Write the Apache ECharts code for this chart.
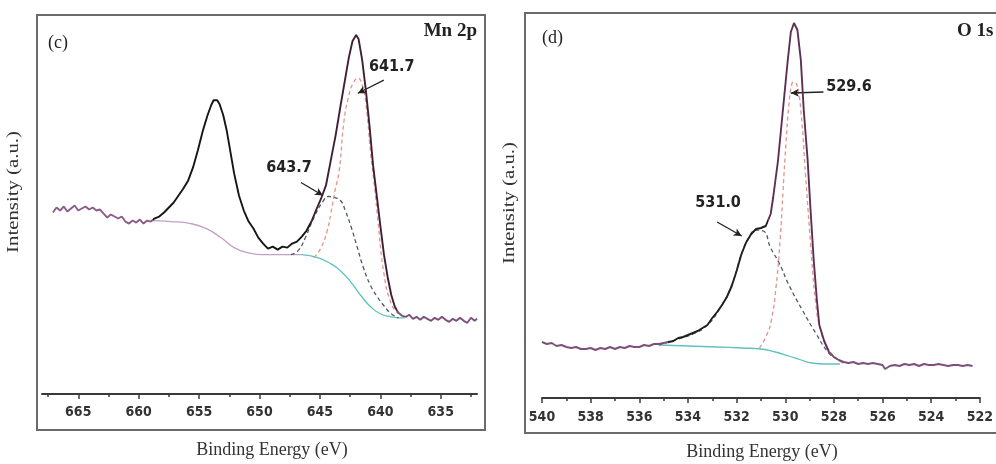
<!DOCTYPE html>
<html>
<head>
<meta charset="utf-8">
<script src="https://cdn.jsdelivr.net/npm/echarts@6/dist/echarts.min.js"></script>
<style>
html,body{margin:0;padding:0;background:#fff;}
#chart{width:996px;height:464px;}
</style>
</head>
<body>
<div id="chart"></div>
<script>
// ---------- Panel (c) Mn 2p ----------
var mnTicks = [635, 640, 645, 650, 655, 660, 665];
var mnMinorTicks = [632.5, 637.5, 642.5, 647.5, 652.5, 657.5, 662.5, 667.5];
var mnEnergy = [667.1, 666.8, 666.5, 666.2, 665.9, 665.6, 665.3, 665.0, 664.7, 664.4, 664.1, 663.8, 663.5, 663.2, 662.9, 662.6, 662.3, 662.0, 661.7, 661.4, 661.1, 660.8, 660.5, 660.2, 659.9, 659.6, 659.3, 659.0, 658.7, 658.3, 657.9, 657.5, 657.1, 656.7, 656.3, 655.9, 655.5, 655.1, 654.7, 654.3, 654.0, 653.8, 653.5, 653.3, 653.0, 652.7, 652.4, 652.1, 651.7, 651.3, 650.9, 650.5, 650.1, 649.7, 649.3, 648.9, 648.5, 648.1, 647.7, 647.3, 646.9, 646.5, 646.1, 645.7, 645.3, 644.9, 644.5, 644.1, 643.7, 643.3, 642.9, 642.6, 642.3, 642.0, 641.8, 641.5, 641.2, 640.9, 640.6, 640.3, 640.0, 639.7, 639.4, 639.1, 638.8, 638.5, 638.2, 637.9, 637.6, 637.3, 637.0, 636.7, 636.4, 636.1, 635.8, 635.5, 635.2, 634.9, 634.6, 634.3, 634.0, 633.7, 633.4, 633.1, 632.8, 632.5, 632.2, 632.0];
var mnIntensity = [181, 186, 183, 187, 182, 185, 188, 183, 185, 187, 184, 186, 183, 184, 180, 176, 179, 177, 175, 177, 172, 170, 173, 171, 174, 170, 173, 172, 175, 177, 181, 186, 191, 198, 205, 213, 226, 243, 262, 278, 288, 293, 293, 289, 278, 262, 241, 220, 198, 183, 172, 165, 156, 150, 145, 147, 144, 147, 146, 150, 152, 157, 163, 172, 184, 195, 208, 233, 258, 287, 315, 336, 352, 358, 354, 333, 303, 268, 228, 198, 168, 139, 117, 99, 87, 81, 78, 77, 79, 75, 77, 74, 77, 75, 73, 76, 74, 77, 74, 72, 75, 73, 76, 73, 71, 76, 73, 75];
var mnBgPinkEnergy = [659.0, 657.3, 655.7, 654.4, 653.2, 652.1, 651.0, 649.9, 648.2, 646.5];
var mnBgPinkIntensity = [173, 172, 170, 165, 156, 146, 141, 139, 139, 139];
var mnBgCyanEnergy = [646.5, 645.2, 644.1, 643.3, 642.4, 641.6, 640.8, 640.0, 639.1, 638.5, 638.0];
var mnBgCyanIntensity = [139, 136, 130, 123, 111, 98, 87, 80, 77, 76, 76];
var mn6437Energy = [647.4, 646.8, 646.2, 645.5, 644.75, 644.3, 643.85, 643.3, 642.9, 642.4, 641.9, 641.4, 640.8, 640.2, 639.7, 639.1, 638.5];
var mn6437Intensity = [139, 143, 156, 176, 192, 197, 196, 193, 183, 166, 146, 126, 108, 96, 88, 80, 76];
var mn6417Energy = [645.5, 644.9, 644.4, 644.1, 643.75, 643.4, 643.0, 642.6, 642.25, 641.85, 641.5, 641.2, 640.8, 640.45, 640.2, 639.7, 639.1, 638.5];
var mn6417Intensity = [136, 146, 163, 180, 203, 223, 273, 298, 310, 315, 308, 290, 240, 203, 173, 120, 90, 80];

// ---------- Panel (d) O 1s ----------
var oTicks = [522, 524, 526, 528, 530, 532, 534, 536, 538, 540];
var oMinorTicks = [523, 525, 527, 529, 531, 533, 535, 537, 539];
var oEnergy = [540.0, 539.8, 539.6, 539.4, 539.2, 539.0, 538.8, 538.6, 538.4, 538.2, 538.0, 537.8, 537.6, 537.4, 537.2, 537.0, 536.8, 536.6, 536.4, 536.2, 536.0, 535.8, 535.6, 535.4, 535.2, 535.0, 534.8, 534.6, 534.4, 534.2, 534.0, 533.8, 533.6, 533.4, 533.2, 533.0, 532.8, 532.6, 532.4, 532.2, 532.0, 531.8, 531.6, 531.4, 531.2, 531.0, 530.8, 530.6, 530.5, 530.3, 530.1, 529.9, 529.77, 529.64, 529.5, 529.36, 529.24, 529.08, 528.96, 528.83, 528.7, 528.6, 528.4, 528.2, 528.0, 527.8, 527.6, 527.4, 527.2, 527.0, 526.8, 526.6, 526.4, 526.2, 526.0, 525.9, 525.7, 525.5, 525.3, 525.1, 524.9, 524.7, 524.5, 524.3, 524.1, 523.9, 523.7, 523.5, 523.3, 523.1, 522.9, 522.7, 522.5, 522.3];
var oIntensity = [56, 54, 55, 52, 53, 51, 50, 51, 49, 49, 50, 48, 50, 49, 51, 49, 51, 50, 52, 51, 51, 53, 52, 54, 54, 55, 56, 57, 60, 61, 63, 65, 67, 70, 73, 80, 86, 93, 101, 112, 127, 144, 156, 164, 169, 170, 172, 184, 200, 237, 287, 337, 366, 375, 368, 338, 288, 238, 188, 138, 98, 73, 57, 46, 41, 38, 36, 35, 36, 34, 35, 34, 35, 34, 33, 29, 32, 33, 32, 34, 33, 34, 32, 34, 33, 33, 34, 33, 32, 33, 33, 32, 33, 32];
var oBgEnergy = [535.2, 534.0, 532.8, 531.8, 531.0, 530.4, 529.85, 529.35, 528.9, 528.35, 527.75];
var oBgIntensity = [53, 52, 51, 50, 49, 46, 42, 38, 35, 34, 34];
var o5310Energy = [535.2, 534.4, 533.7, 533.2, 532.7, 532.2, 531.8, 531.5, 531.2, 530.9, 530.6, 530.25, 529.85, 529.3, 528.75, 528.25, 527.95, 527.6];
var o5310Intensity = [53, 59, 65, 73, 89, 113, 144, 160, 168, 167, 150, 135, 113, 88, 65, 46, 40, 35];
var o5296Energy = [531.06, 530.78, 530.57, 530.37, 530.21, 530.09, 529.97, 529.85, 529.73, 529.64, 529.52, 529.36, 529.16, 528.96, 528.75, 528.55, 528.27, 527.95, 527.62];
var o5296Intensity = [50, 62, 78, 113, 158, 208, 255, 293, 314, 316, 313, 288, 221, 155, 95, 68, 50, 41, 35];

// annotation labels (peak positions as printed)
var mnPeakLabels = ['641.7', '643.7'];
var oPeakLabels = ['529.6', '531.0'];

function zip(xs, ys) { return xs.map(function (x, i) { return [x, ys[i]]; }); }

var serif = '"Liberation Serif", "Times New Roman", serif';
var narrow = '"Liberation Sans Narrow", "Arial Narrow", "DejaVu Sans Condensed", "Liberation Sans", sans-serif';
var axisColor = '#3a3a3a';

function mainAxis(grid, min, max, ticks, margin) {
  return {
    type: 'value', gridIndex: grid, min: min, max: max, inverse: true, position: 'bottom',
    axisLine: { show: true, onZero: false, lineStyle: { color: axisColor, width: 2 } },
    axisTick: { show: true, customValues: ticks, length: 5, lineStyle: { color: axisColor, width: 1.5 } },
    axisLabel: { show: true, customValues: ticks, margin: margin, color: '#333', fontFamily: narrow, fontWeight: 'bold', fontSize: 14 },
    splitLine: { show: false }
  };
}
function minorAxis(grid, min, max, ticks) {
  return {
    type: 'value', gridIndex: grid, min: min, max: max, inverse: true, position: 'bottom',
    axisLine: { show: false, onZero: false },
    axisTick: { show: true, customValues: ticks, length: 3, lineStyle: { color: axisColor, width: 1.5 } },
    axisLabel: { show: false },
    splitLine: { show: false }
  };
}
function line(name, xi, yi, data, color, opts) {
  var s = {
    name: name, type: 'line', xAxisIndex: xi, yAxisIndex: yi, data: data,
    showSymbol: false, symbol: 'none', silent: true, animation: false,
    lineStyle: { color: color, width: 1.3 }, z: 2
  };
  for (var k in opts) s[k] = opts[k];
  return s;
}
function arrow(from, to) {
  return [{ coord: from, symbol: 'none' }, { coord: to, symbol: 'arrow', symbolSize: [6, 8] }];
}
function peakLabel(text, at) {
  return {
    coord: at, symbol: 'rect', symbolSize: 1, itemStyle: { color: 'rgba(0,0,0,0)' },
    label: { show: true, position: 'inside', formatter: text, color: '#222', fontFamily: narrow, fontWeight: 'bold', fontSize: 16 }
  };
}

var chart = echarts.init(document.getElementById('chart'), null, { renderer: 'canvas' });
chart.setOption({
  backgroundColor: '#ffffff',
  animation: false,
  grid: [
    { left: 42, right: 519, top: 15, bottom: 70 },
    { left: 542, right: 9, top: 13, bottom: 66 }
  ],
  xAxis: [
    mainAxis(0, 632, 668, mnTicks, 11),
    minorAxis(0, 632, 668, mnMinorTicks),
    mainAxis(1, 522, 540, oTicks, 12),
    minorAxis(1, 522, 540, oMinorTicks)
  ],
  yAxis: [
    { type: 'value', gridIndex: 0, min: 0, max: 378, show: false },
    { type: 'value', gridIndex: 1, min: 0, max: 385, show: false }
  ],
  visualMap: [
    { type: 'piecewise', show: false, seriesIndex: 0, dimension: 0,
      pieces: [
        { min: 658.8, max: 700, color: '#8a5c86' },
        { min: 645.8, max: 658.8, color: '#151515' },
        { min: 638.6, max: 645.8, color: '#3e1f36' },
        { min: 600, max: 638.6, color: '#7d5079' }
      ] },
    { type: 'piecewise', show: false, seriesIndex: 5, dimension: 0,
      pieces: [
        { min: 534.8, max: 560, color: '#7d5079' },
        { min: 530.7, max: 534.8, color: '#1e1e1e' },
        { min: 528.2, max: 530.7, color: '#5e2f55' },
        { min: 500, max: 528.2, color: '#7d5079' }
      ] }
  ],
  series: [
    line('Mn 2p data', 0, 0, zip(mnEnergy, mnIntensity), '#151515', { lineStyle: { width: 1.9 }, z: 5 }),
    line('Mn background 1', 0, 0, zip(mnBgPinkEnergy, mnBgPinkIntensity), '#c4a0c2', { smooth: true }),
    line('Mn background 2', 0, 0, zip(mnBgCyanEnergy, mnBgCyanIntensity), '#5fc2bd', { smooth: true }),
    line('Mn 643.7', 0, 0, zip(mn6437Energy, mn6437Intensity), '#4e5a66', {
      smooth: true, lineStyle: { color: '#4e5a66', width: 1.3, type: [4, 3] },
      markLine: { silent: true, symbol: ['none', 'arrow'], lineStyle: { color: '#222', width: 1.3, type: 'solid' }, label: { show: false },
        data: [arrow([646.57, 211], [644.75, 198]), arrow([639.71, 313], [641.86, 300])] },
      markPoint: { silent: true, data: [peakLabel(mnPeakLabels[0], [639.05, 326]), peakLabel(mnPeakLabels[1], [647.56, 226])] }
    }),
    line('Mn 641.7', 0, 0, zip(mn6417Energy, mn6417Intensity), '#e0958a', {
      smooth: true, lineStyle: { color: '#e0958a', width: 1.3, type: [4, 3] }
    }),
    line('O 1s data', 2, 1, zip(oEnergy, oIntensity), '#1e1e1e', { lineStyle: { width: 1.9 }, z: 5 }),
    line('O background', 2, 1, zip(oBgEnergy, oBgIntensity), '#5fc2bd', { smooth: true }),
    line('O 531.0', 2, 1, zip(o5310Energy, o5310Intensity), '#4e5a66', {
      smooth: true, lineStyle: { color: '#4e5a66', width: 1.3, type: [4, 3] },
      markLine: { silent: true, symbol: ['none', 'arrow'], lineStyle: { color: '#222', width: 1.3, type: 'solid' }, label: { show: false },
        data: [arrow([532.8, 176], [531.79, 162]), arrow([528.43, 306], [529.77, 305])] },
      markPoint: { silent: true, data: [peakLabel(oPeakLabels[0], [527.38, 311]), peakLabel(oPeakLabels[1], [532.76, 195])] }
    }),
    line('O 529.6', 2, 1, zip(o5296Energy, o5296Intensity), '#e0958a', {
      smooth: true, lineStyle: { color: '#e0958a', width: 1.3, type: [4, 3] }
    })
  ],
  graphic: [
    { type: 'rect', shape: { x: 37, y: 15, width: 448, height: 415 }, style: { fill: 'none', stroke: '#6a6a6a', lineWidth: 2 }, silent: true },
    { type: 'rect', shape: { x: 525, y: 13, width: 480, height: 420 }, style: { fill: 'none', stroke: '#6a6a6a', lineWidth: 2 }, silent: true },
    { type: 'text', x: 48, y: 34, style: { text: '(c)', font: '18px ' + serif, fill: '#222' }, silent: true },
    { type: 'text', x: 477, y: 22, style: { text: 'Mn 2p', font: 'bold 19px ' + serif, fill: '#222', align: 'right' }, silent: true },
    { type: 'text', x: 542, y: 29, style: { text: '(d)', font: '18px ' + serif, fill: '#222' }, silent: true },
    { type: 'text', x: 957, y: 22, style: { text: 'O 1s', font: 'bold 19px ' + serif, fill: '#222' }, silent: true },
    { type: 'text', x: 272, y: 450, style: { text: 'Binding Energy (eV)', font: '18px ' + serif, fill: '#333', align: 'center', verticalAlign: 'middle' }, silent: true },
    { type: 'text', x: 762, y: 452, style: { text: 'Binding Energy (eV)', font: '18px ' + serif, fill: '#333', align: 'center', verticalAlign: 'middle' }, silent: true },
    { type: 'text', x: 14, y: 192, rotation: Math.PI / 2, scaleX: 1.3, style: { text: 'Intensity (a.u.)', font: '16px ' + serif, fill: '#333', align: 'center', verticalAlign: 'middle' }, silent: true },
    { type: 'text', x: 510, y: 203, rotation: Math.PI / 2, scaleX: 1.3, style: { text: 'Intensity (a.u.)', font: '16px ' + serif, fill: '#333', align: 'center', verticalAlign: 'middle' }, silent: true }
  ]
});
</script>
</body>
</html>
